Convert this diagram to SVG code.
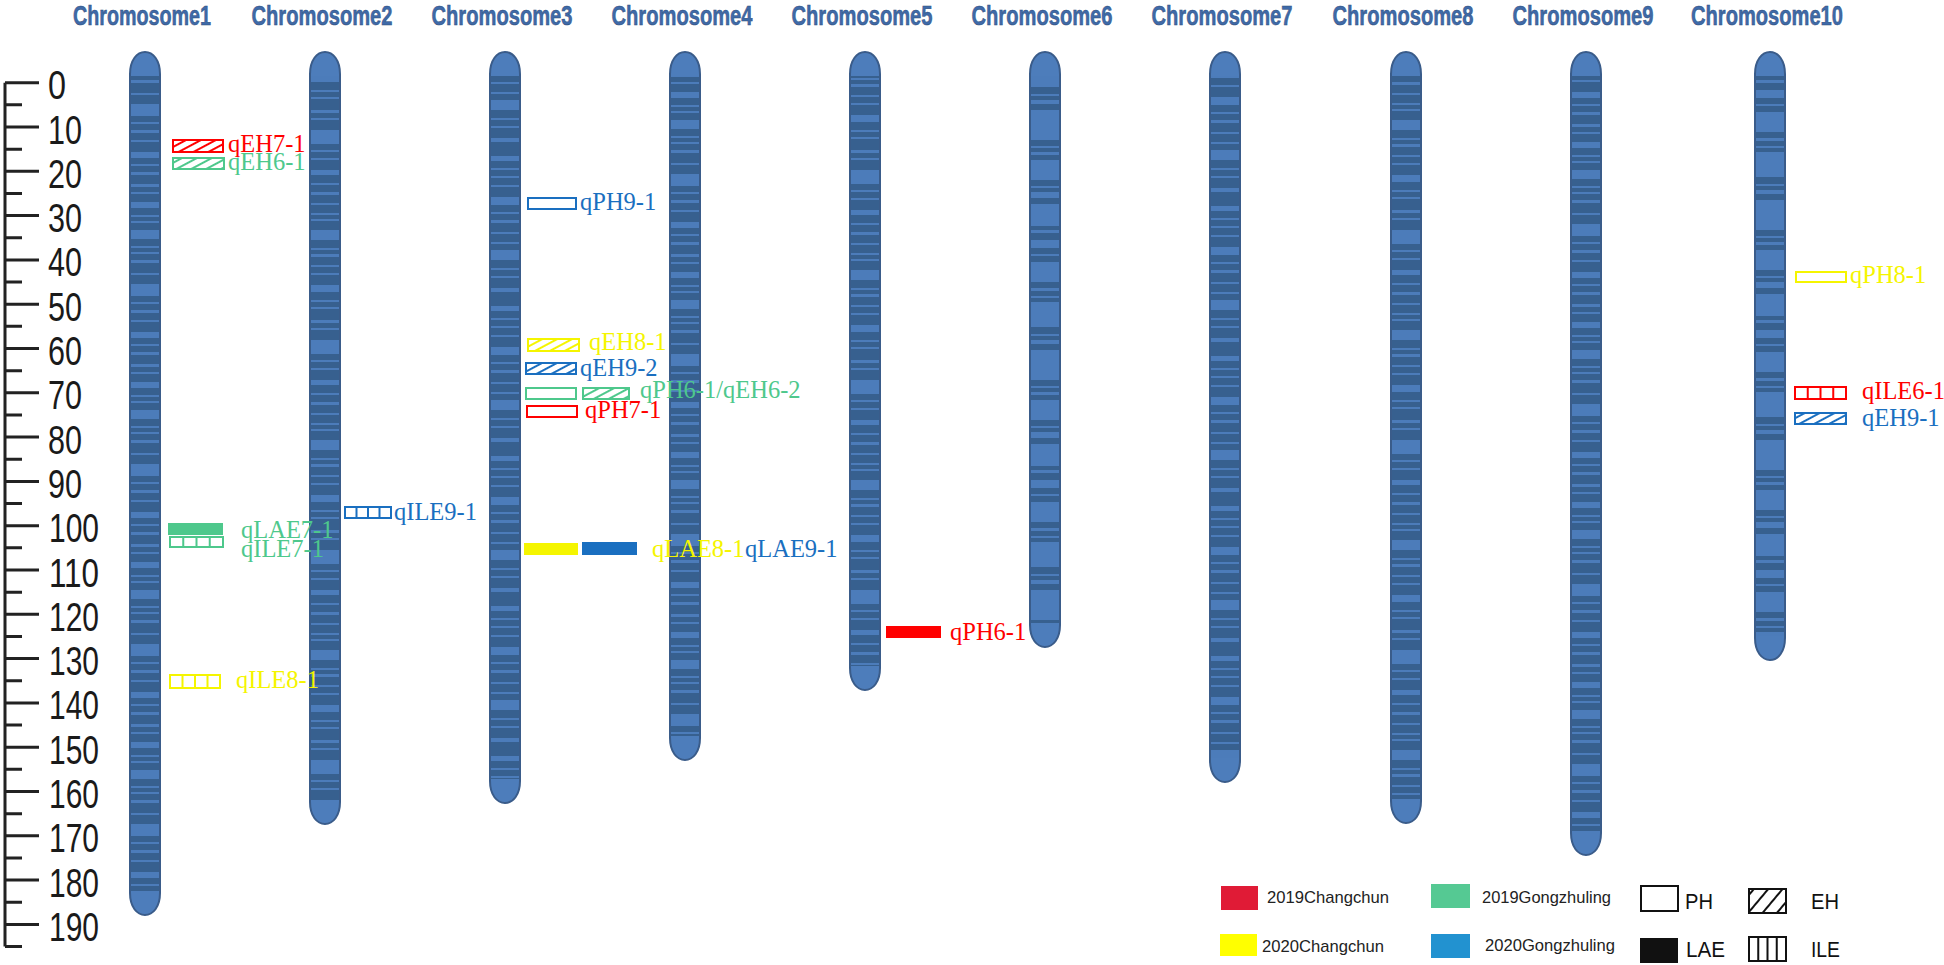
<svg xmlns="http://www.w3.org/2000/svg" xmlns:xlink="http://www.w3.org/1999/xlink" width="1944" height="965" viewBox="0 0 1944 965">
<style>
.title{font-family:"Liberation Sans",Arial,sans-serif;font-weight:bold;font-size:28px;fill:#3f6aa8;stroke:#2c4c7a;stroke-width:0.5px;text-anchor:middle}
.scale{font-family:"Liberation Sans",Arial,sans-serif;font-size:40px;fill:#1a1a1a}
.lab{font-family:"Liberation Serif","Times New Roman",serif;font-size:24.5px}
.leg{font-family:"Liberation Sans",Arial,sans-serif;font-size:17px;fill:#222}
.legb{font-family:"Liberation Sans",Arial,sans-serif;font-size:22px;fill:#111}
.cap{fill:#4d7dbb}
.outline{fill:none;stroke:#3a5c8a;stroke-width:2}
.r{fill:#ff0000;stroke:#ff0000}
.g{fill:#4ec88c;stroke:#4ec88c}
.y{fill:#f5f500;stroke:#f5f500}
.b{fill:#1a6fc0;stroke:#1a6fc0}
.box{stroke-width:2}
.txt{stroke:none}
</style>
<defs>
<pattern id="bA" width="30" height="180" patternUnits="userSpaceOnUse">
<rect width="30" height="180" fill="#37608f"/>
<path fill="#4c7cba" d="M0 4h30v3H0z M0 12h30v2H0z M0 22h30v6H0z M0 35h30v2H0z M0 41h30v2H0z M0 50h30v9H0z M0 66h30v2H0z M0 72h30v2H0z M0 80h30v3H0z M0 93h30v2H0z M0 104h30v12H0z M0 122h30v2H0z M0 130h30v3H0z M0 140h30v2H0z M0 152h30v6H0z M0 164h30v2H0z M0 172h30v3H0z"/>
</pattern>
<pattern id="bB" width="30" height="210" patternUnits="userSpaceOnUse">
<rect width="30" height="210" fill="#37608f"/>
<path fill="#4c7cba" d="M0 3h30v2H0z M0 9h30v2H0z M0 20h30v10H0z M0 38h30v2H0z M0 44h30v3H0z M0 55h30v2H0z M0 63h30v2H0z M0 75h30v7H0z M0 90h30v2H0z M0 97h30v2H0z M0 110h30v3H0z M0 118h30v2H0z M0 130h30v14H0z M0 150h30v2H0z M0 158h30v2H0z M0 170h30v5H0z M0 183h30v2H0z M0 192h30v3H0z M0 203h30v2H0z"/>
</pattern>
<pattern id="bC" width="30" height="150" patternUnits="userSpaceOnUse">
<rect width="30" height="150" fill="#37608f"/>
<path fill="#4c7cba" d="M0 6h30v5H0z M0 18h30v2H0z M0 26h30v2H0z M0 35h30v2H0z M0 47h30v8H0z M0 62h30v2H0z M0 70h30v3H0z M0 82h30v2H0z M0 92h30v2H0z M0 100h30v10H0z M0 118h30v2H0z M0 126h30v2H0z M0 138h30v4H0z"/>
</pattern>
<pattern id="bD" width="30" height="240" patternUnits="userSpaceOnUse">
<rect width="30" height="240" fill="#37608f"/>
<path fill="#4c7cba" d="M0 0h30v8H0z M0 14h30v2H0z M0 22h30v20H0z M0 48h30v3H0z M0 56h30v2H0z M0 62h30v25H0z M0 94h30v2H0z M0 100h30v4H0z M0 110h30v30H0z M0 146h30v2H0z M0 152h30v3H0z M0 160h30v20H0z M0 186h30v2H0z M0 192h30v6H0z M0 204h30v22H0z M0 230h30v3H0z"/>
</pattern>
<pattern id="bA2" xlink:href="#bA" patternTransform="translate(0,70)"/>
<pattern id="bB2" xlink:href="#bB" patternTransform="translate(0,40)"/>
<pattern id="bC2" xlink:href="#bC" patternTransform="translate(0,50)"/>
<pattern id="bB3" xlink:href="#bB" patternTransform="translate(0,100)"/>
<pattern id="bA3" xlink:href="#bA" patternTransform="translate(0,120)"/>
<pattern id="bD2" xlink:href="#bD" patternTransform="translate(0,90)"/>
<pattern id="hR" width="10" height="7" patternUnits="userSpaceOnUse" patternTransform="rotate(-28)"><rect width="10" height="2" fill="#ff0000"/></pattern>
<pattern id="hG" width="10" height="7" patternUnits="userSpaceOnUse" patternTransform="rotate(-28)"><rect width="10" height="2" fill="#4ec88c"/></pattern>
<pattern id="hY" width="10" height="7" patternUnits="userSpaceOnUse" patternTransform="rotate(-28)"><rect width="10" height="2" fill="#f5f500"/></pattern>
<pattern id="hB" width="10" height="7" patternUnits="userSpaceOnUse" patternTransform="rotate(-28)"><rect width="10" height="2" fill="#1a6fc0"/></pattern>
<pattern id="hK" width="10" height="11" patternUnits="userSpaceOnUse" patternTransform="rotate(-50)"><rect width="10" height="2" fill="#111"/></pattern>
</defs>
<rect width="1944" height="965" fill="#ffffff"/>

<g id="scale">
<path fill="none" stroke="#222" stroke-width="3" d="M5 82.7V946.5 M5 82.7H39 M5 104.85H22 M5 127H39 M5 149.15H22 M5 171.3H39 M5 193.45H22 M5 215.6H39 M5 237.75H22 M5 259.9H39 M5 282.05H22 M5 304.2H39 M5 326.35H22 M5 348.5H39 M5 370.65H22 M5 392.8H39 M5 414.95H22 M5 437.1H39 M5 459.25H22 M5 481.4H39 M5 503.55H22 M5 525.7H39 M5 547.85H22 M5 570H39 M5 592.15H22 M5 614.3H39 M5 636.45H22 M5 658.6H39 M5 680.75H22 M5 702.9H39 M5 725.05H22 M5 747.2H39 M5 769.35H22 M5 791.5H39 M5 813.65H22 M5 835.8H39 M5 857.95H22 M5 880.1H39 M5 902.25H22 M5 924.4H39 M5 946.55H22"/>
<g class="scale">
<text x="48" y="99.2" textLength="18" lengthAdjust="spacingAndGlyphs">0</text>
<text x="48" y="143.5" textLength="34" lengthAdjust="spacingAndGlyphs">10</text>
<text x="48" y="187.8" textLength="34" lengthAdjust="spacingAndGlyphs">20</text>
<text x="48" y="232.1" textLength="34" lengthAdjust="spacingAndGlyphs">30</text>
<text x="48" y="276.4" textLength="34" lengthAdjust="spacingAndGlyphs">40</text>
<text x="48" y="320.7" textLength="34" lengthAdjust="spacingAndGlyphs">50</text>
<text x="48" y="365" textLength="34" lengthAdjust="spacingAndGlyphs">60</text>
<text x="48" y="409.3" textLength="34" lengthAdjust="spacingAndGlyphs">70</text>
<text x="48" y="453.6" textLength="34" lengthAdjust="spacingAndGlyphs">80</text>
<text x="48" y="497.9" textLength="34" lengthAdjust="spacingAndGlyphs">90</text>
<text x="49" y="542.2" textLength="50" lengthAdjust="spacingAndGlyphs">100</text>
<text x="49" y="586.5" textLength="50" lengthAdjust="spacingAndGlyphs">110</text>
<text x="49" y="630.8" textLength="50" lengthAdjust="spacingAndGlyphs">120</text>
<text x="49" y="675.1" textLength="50" lengthAdjust="spacingAndGlyphs">130</text>
<text x="49" y="719.4" textLength="50" lengthAdjust="spacingAndGlyphs">140</text>
<text x="49" y="763.7" textLength="50" lengthAdjust="spacingAndGlyphs">150</text>
<text x="49" y="808" textLength="50" lengthAdjust="spacingAndGlyphs">160</text>
<text x="49" y="852.3" textLength="50" lengthAdjust="spacingAndGlyphs">170</text>
<text x="49" y="896.6" textLength="50" lengthAdjust="spacingAndGlyphs">180</text>
<text x="49" y="940.9" textLength="50" lengthAdjust="spacingAndGlyphs">190</text>
</g>
</g>

<g id="chr1">
<text class="title" x="142" y="25" textLength="138" lengthAdjust="spacingAndGlyphs">Chromosome1</text>
<g transform="translate(145,0)">
<path fill="url(#bA)" d="M-15,74 C-15,60 -8,52 0,52 C8,52 15,60 15,74 V893 C15,907 8,915 0,915 C-8,915 -15,907 -15,893 Z"/>
<path class="cap" d="M-15,76 V74 C-15,60 -8,52 0,52 C8,52 15,60 15,74 V76 Z"/>
<path class="cap" d="M-15,891 H15 V893 C15,907 8,915 0,915 C-8,915 -15,907 -15,893 Z"/>
<path class="outline" d="M-15,74 C-15,60 -8,52 0,52 C8,52 15,60 15,74 V893 C15,907 8,915 0,915 C-8,915 -15,907 -15,893 Z"/>
</g>
</g>

<g id="chr2">
<text class="title" x="322" y="25" textLength="141" lengthAdjust="spacingAndGlyphs">Chromosome2</text>
<g transform="translate(325,0)">
<path fill="url(#bB)" d="M-15,74 C-15,60 -8,52 0,52 C8,52 15,60 15,74 V802 C15,816 8,824 0,824 C-8,824 -15,816 -15,802 Z"/>
<path class="cap" d="M-15,76 V74 C-15,60 -8,52 0,52 C8,52 15,60 15,74 V76 Z"/>
<path class="cap" d="M-15,800 H15 V802 C15,816 8,824 0,824 C-8,824 -15,816 -15,802 Z"/>
<path class="outline" d="M-15,74 C-15,60 -8,52 0,52 C8,52 15,60 15,74 V802 C15,816 8,824 0,824 C-8,824 -15,816 -15,802 Z"/>
</g>
</g>

<g id="chr3">
<text class="title" x="502" y="25" textLength="141" lengthAdjust="spacingAndGlyphs">Chromosome3</text>
<g transform="translate(505,0)">
<path fill="url(#bC)" d="M-15,74 C-15,60 -8,52 0,52 C8,52 15,60 15,74 V781 C15,795 8,803 0,803 C-8,803 -15,795 -15,781 Z"/>
<path class="cap" d="M-15,76 V74 C-15,60 -8,52 0,52 C8,52 15,60 15,74 V76 Z"/>
<path class="cap" d="M-15,779 H15 V781 C15,795 8,803 0,803 C-8,803 -15,795 -15,781 Z"/>
<path class="outline" d="M-15,74 C-15,60 -8,52 0,52 C8,52 15,60 15,74 V781 C15,795 8,803 0,803 C-8,803 -15,795 -15,781 Z"/>
</g>
</g>

<g id="chr4">
<text class="title" x="682" y="25" textLength="141" lengthAdjust="spacingAndGlyphs">Chromosome4</text>
<g transform="translate(685,0)">
<path fill="url(#bA2)" d="M-15,74 C-15,60 -8,52 0,52 C8,52 15,60 15,74 V738 C15,752 8,760 0,760 C-8,760 -15,752 -15,738 Z"/>
<path class="cap" d="M-15,76 V74 C-15,60 -8,52 0,52 C8,52 15,60 15,74 V76 Z"/>
<path class="cap" d="M-15,736 H15 V738 C15,752 8,760 0,760 C-8,760 -15,752 -15,738 Z"/>
<path class="outline" d="M-15,74 C-15,60 -8,52 0,52 C8,52 15,60 15,74 V738 C15,752 8,760 0,760 C-8,760 -15,752 -15,738 Z"/>
</g>
</g>

<g id="chr5">
<text class="title" x="862" y="25" textLength="141" lengthAdjust="spacingAndGlyphs">Chromosome5</text>
<g transform="translate(865,0)">
<path fill="url(#bB2)" d="M-15,74 C-15,60 -8,52 0,52 C8,52 15,60 15,74 V668 C15,682 8,690 0,690 C-8,690 -15,682 -15,668 Z"/>
<path class="cap" d="M-15,76 V74 C-15,60 -8,52 0,52 C8,52 15,60 15,74 V76 Z"/>
<path class="cap" d="M-15,666 H15 V668 C15,682 8,690 0,690 C-8,690 -15,682 -15,668 Z"/>
<path class="outline" d="M-15,74 C-15,60 -8,52 0,52 C8,52 15,60 15,74 V668 C15,682 8,690 0,690 C-8,690 -15,682 -15,668 Z"/>
</g>
</g>

<g id="chr6">
<text class="title" x="1042" y="25" textLength="141" lengthAdjust="spacingAndGlyphs">Chromosome6</text>
<g transform="translate(1045,0)">
<path fill="url(#bD)" d="M-15,74 C-15,60 -8,52 0,52 C8,52 15,60 15,74 V625 C15,639 8,647 0,647 C-8,647 -15,639 -15,625 Z"/>
<path class="cap" d="M-15,76 V74 C-15,60 -8,52 0,52 C8,52 15,60 15,74 V76 Z"/>
<path class="cap" d="M-15,623 H15 V625 C15,639 8,647 0,647 C-8,647 -15,639 -15,625 Z"/>
<path class="outline" d="M-15,74 C-15,60 -8,52 0,52 C8,52 15,60 15,74 V625 C15,639 8,647 0,647 C-8,647 -15,639 -15,625 Z"/>
</g>
</g>

<g id="chr7">
<text class="title" x="1222" y="25" textLength="141" lengthAdjust="spacingAndGlyphs">Chromosome7</text>
<g transform="translate(1225,0)">
<path fill="url(#bC2)" d="M-15,74 C-15,60 -8,52 0,52 C8,52 15,60 15,74 V760 C15,774 8,782 0,782 C-8,782 -15,774 -15,760 Z"/>
<path class="cap" d="M-15,76 V74 C-15,60 -8,52 0,52 C8,52 15,60 15,74 V76 Z"/>
<path class="cap" d="M-15,758 H15 V760 C15,774 8,782 0,782 C-8,782 -15,774 -15,760 Z"/>
<path class="outline" d="M-15,74 C-15,60 -8,52 0,52 C8,52 15,60 15,74 V760 C15,774 8,782 0,782 C-8,782 -15,774 -15,760 Z"/>
</g>
</g>

<g id="chr8">
<text class="title" x="1403" y="25" textLength="141" lengthAdjust="spacingAndGlyphs">Chromosome8</text>
<g transform="translate(1406,0)">
<path fill="url(#bB3)" d="M-15,74 C-15,60 -8,52 0,52 C8,52 15,60 15,74 V801 C15,815 8,823 0,823 C-8,823 -15,815 -15,801 Z"/>
<path class="cap" d="M-15,76 V74 C-15,60 -8,52 0,52 C8,52 15,60 15,74 V76 Z"/>
<path class="cap" d="M-15,799 H15 V801 C15,815 8,823 0,823 C-8,823 -15,815 -15,801 Z"/>
<path class="outline" d="M-15,74 C-15,60 -8,52 0,52 C8,52 15,60 15,74 V801 C15,815 8,823 0,823 C-8,823 -15,815 -15,801 Z"/>
</g>
</g>

<g id="chr9">
<text class="title" x="1583" y="25" textLength="141" lengthAdjust="spacingAndGlyphs">Chromosome9</text>
<g transform="translate(1586,0)">
<path fill="url(#bA3)" d="M-15,74 C-15,60 -8,52 0,52 C8,52 15,60 15,74 V833 C15,847 8,855 0,855 C-8,855 -15,847 -15,833 Z"/>
<path class="cap" d="M-15,76 V74 C-15,60 -8,52 0,52 C8,52 15,60 15,74 V76 Z"/>
<path class="cap" d="M-15,831 H15 V833 C15,847 8,855 0,855 C-8,855 -15,847 -15,833 Z"/>
<path class="outline" d="M-15,74 C-15,60 -8,52 0,52 C8,52 15,60 15,74 V833 C15,847 8,855 0,855 C-8,855 -15,847 -15,833 Z"/>
</g>
</g>

<g id="chr10">
<text class="title" x="1767" y="25" textLength="152" lengthAdjust="spacingAndGlyphs">Chromosome10</text>
<g transform="translate(1770,0)">
<path fill="url(#bD2)" d="M-15,74 C-15,60 -8,52 0,52 C8,52 15,60 15,74 V638 C15,652 8,660 0,660 C-8,660 -15,652 -15,638 Z"/>
<path class="cap" d="M-15,76 V74 C-15,60 -8,52 0,52 C8,52 15,60 15,74 V76 Z"/>
<path class="cap" d="M-15,636 H15 V638 C15,652 8,660 0,660 C-8,660 -15,652 -15,638 Z"/>
<path class="outline" d="M-15,74 C-15,60 -8,52 0,52 C8,52 15,60 15,74 V638 C15,652 8,660 0,660 C-8,660 -15,652 -15,638 Z"/>
</g>
</g>

<g id="qEH7-1" class="r">
<rect class="box" x="173" y="140" width="50" height="12" fill="url(#hR)"/>
<text class="lab txt" x="228" y="152">qEH7-1</text>
</g>
<g id="qEH6-1" class="g">
<rect class="box" x="173" y="158" width="51" height="11" fill="url(#hG)"/>
<text class="lab txt" x="228" y="170">qEH6-1</text>
</g>
<g id="qLAE7-1" class="g">
<rect x="168" y="523" width="55" height="12" stroke="none"/>
<text class="lab txt" x="241" y="538">qLAE7-1</text>
</g>
<g id="qILE7-1" class="g">
<rect class="box" x="170" y="537" width="53" height="10" fill="#fff"/>
<path class="box" fill="none" d="M183.25 537V547 M196.5 537V547 M209.75 537V547"/>
<text class="lab txt" x="241" y="557">qILE7-1</text>
</g>
<g id="qILE8-1" class="y">
<rect class="box" x="170" y="675" width="50" height="13" fill="#fff"/>
<path class="box" fill="none" d="M182.5 675V688 M195 675V688 M207.5 675V688"/>
<text class="lab txt" x="236" y="688">qILE8-1</text>
</g>
<g id="qILE9-1" class="b">
<rect class="box" x="345" y="507" width="46" height="11" fill="#fff"/>
<path class="box" fill="none" d="M356.5 507V518 M368 507V518 M379.5 507V518"/>
<text class="lab txt" x="394" y="520">qILE9-1</text>
</g>
<g id="qPH9-1" class="b">
<rect class="box" x="528" y="198" width="48" height="11" fill="none"/>
<text class="lab txt" x="580" y="210">qPH9-1</text>
</g>
<g id="qEH8-1" class="y">
<rect class="box" x="528" y="339" width="51" height="12" fill="url(#hY)"/>
<text class="lab txt" x="589" y="350">qEH8-1</text>
</g>
<g id="qEH9-2" class="b">
<rect class="box" x="526" y="363" width="50" height="11" fill="url(#hB)"/>
<text class="lab txt" x="580" y="376">qEH9-2</text>
</g>
<g id="qPH6-1-qEH6-2" class="g">
<rect class="box" x="526" y="388" width="50" height="11" fill="none"/>
<rect class="box" x="583" y="388" width="46" height="11" fill="url(#hG)"/>
<text class="lab txt" x="640" y="398">qPH6-1/qEH6-2</text>
</g>
<g id="qPH7-1" class="r">
<rect class="box" x="527" y="406" width="50" height="11" fill="none"/>
<text class="lab txt" x="585" y="418">qPH7-1</text>
</g>
<g id="qLAE8-1" class="y">
<rect x="524" y="543" width="54" height="12" stroke="none"/>
<text class="lab txt" x="652" y="557">qLAE8-1</text>
</g>
<g id="qLAE9-1" class="b">
<rect x="582" y="542" width="55" height="13" stroke="none"/>
<text class="lab txt" x="745" y="557">qLAE9-1</text>
</g>
<g id="qPH6-1" class="r">
<rect x="886" y="626" width="55" height="12" stroke="none"/>
<text class="lab txt" x="950" y="640">qPH6-1</text>
</g>
<g id="qPH8-1" class="y">
<rect class="box" x="1796" y="272" width="50" height="10" fill="none"/>
<text class="lab txt" x="1850" y="283">qPH8-1</text>
</g>
<g id="qILE6-1" class="r">
<rect class="box" x="1795" y="387" width="51" height="12" fill="#fff"/>
<path class="box" fill="none" d="M1807.75 387V399 M1820.5 387V399 M1833.25 387V399"/>
<text class="lab txt" x="1862" y="399">qILE6-1</text>
</g>
<g id="qEH9-1" class="b">
<rect class="box" x="1795" y="413" width="51" height="11" fill="url(#hB)"/>
<text class="lab txt" x="1862" y="426">qEH9-1</text>
</g>

<g id="legend">
<rect x="1221" y="886" width="37" height="24" fill="#e01b36"/>
<text class="leg" x="1267" y="903" textLength="122" lengthAdjust="spacingAndGlyphs">2019Changchun</text>
<rect x="1431" y="884" width="39" height="24" fill="#55c993"/>
<text class="leg" x="1482" y="903" textLength="129" lengthAdjust="spacingAndGlyphs">2019Gongzhuling</text>
<rect x="1641" y="886" width="37" height="25" fill="#fff" stroke="#111" stroke-width="2"/>
<text class="legb" x="1685" y="909" textLength="28" lengthAdjust="spacingAndGlyphs">PH</text>
<rect x="1749" y="889" width="37" height="24" fill="url(#hK)" stroke="#111" stroke-width="2"/>
<text class="legb" x="1811" y="909" textLength="28" lengthAdjust="spacingAndGlyphs">EH</text>
<rect x="1220" y="934" width="37" height="22" fill="#ffff00"/>
<text class="leg" x="1262" y="952" textLength="122" lengthAdjust="spacingAndGlyphs">2020Changchun</text>
<rect x="1431" y="934" width="39" height="24" fill="#2292d0"/>
<text class="leg" x="1485" y="951" textLength="130" lengthAdjust="spacingAndGlyphs">2020Gongzhuling</text>
<rect x="1640" y="938" width="38" height="25" fill="#111"/>
<text class="legb" x="1686" y="957" textLength="39" lengthAdjust="spacingAndGlyphs">LAE</text>
<rect x="1749" y="937" width="37" height="24" fill="#fff" stroke="#111" stroke-width="2"/>
<path fill="none" stroke="#111" stroke-width="2" d="M1758.25 937V961 M1767.5 937V961 M1776.75 937V961"/>
<text class="legb" x="1811" y="957" textLength="29" lengthAdjust="spacingAndGlyphs">ILE</text>
</g>
</svg>
